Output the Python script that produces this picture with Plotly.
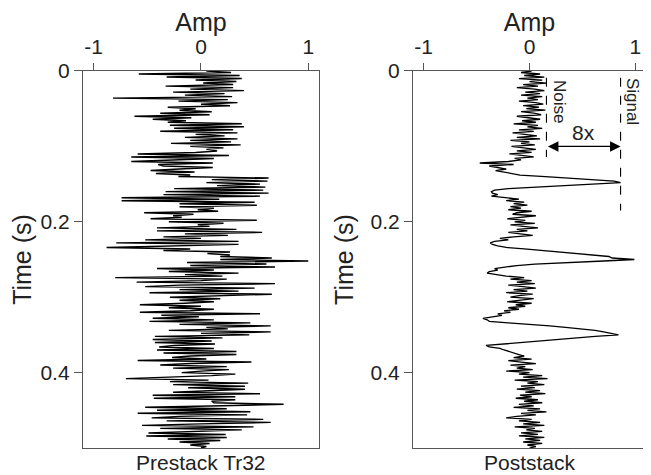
import plotly.graph_objects as go

# sample interval (s)
dt = 0.002

# prestack trace Tr32, amplitude per 2 ms sample
prestack = [
    0.05, 0.28, -0.58, 0.36, -0.32, 0.38, -0.05, 0.33, 0.02, 0.30,
    -0.33, 0.30, -0.10, 0.40, -0.26, 0.22, -0.15, 0.29, -0.82, 0.25,
    -0.21, 0.34, 0.00, 0.27, -0.31, -0.05, -0.20, 0.10, -0.38, 0.08,
    -0.62, -0.09, -0.45, -0.14, -0.31, 0.38, -0.29, 0.40, -0.25, 0.30,
    -0.38, 0.34, -0.05, 0.22, -0.15, 0.34, -0.10, 0.28, -0.28, 0.37,
    -0.10, 0.21, 0.05, 0.15, -0.05, -0.59, 0.26, -0.65, 0.12, -0.30,
    -0.65, 0.11, -0.40, -0.35, 0.11, -0.20, -0.47, -0.06, -0.42, -0.10,
    -0.21, 0.63, 0.10, 0.62, 0.05, 0.55, 0.15, 0.60, -0.25, 0.58,
    -0.33, 0.63, -0.35, 0.55, -0.74, 0.17, -0.74, 0.50, -0.20, 0.52,
    -0.20, 0.12, -0.03, 0.16, -0.53, -0.07, -0.26, -0.18, -0.47, 0.52,
    -0.30, 0.21, -0.03, 0.08, -0.41, 0.33, -0.41, 0.57, -0.15, 0.25,
    -0.35, 0.00, -0.52, 0.35, -0.79, 0.35, -0.40, -0.88, -0.10, -0.35,
    0.27, 0.06, 0.27, 0.18, 0.66, 0.18, 1.00, -0.13, 0.61, -0.10,
    0.69, -0.41, 0.12, -0.30, 0.35, -0.15, 0.20, -0.80, 0.24, 0.00,
    -0.60, 0.69, -0.20, -0.52, 0.50, -0.20, 0.35, -0.48, 0.66, 0.10,
    -0.29, 0.18, -0.20, 0.12, -0.15, -0.57, 0.00, -0.30, 0.12, -0.10,
    -0.57, 0.55, -0.37, -0.02, -0.45, 0.12, -0.48, 0.46, -0.20, 0.65,
    0.05, 0.25, -0.30, 0.65, 0.00, 0.45, -0.43, 0.20, -0.45, 0.10,
    -0.43, 0.13, -0.25, -0.39, 0.12, -0.41, 0.33, -0.35, 0.33, -0.10,
    -0.27, 0.05, -0.59, 0.47, -0.10, -0.38, 0.24, -0.26, 0.26, 0.00,
    -0.18, 0.32, 0.10, -0.30, -0.70, 0.07, -0.29, 0.44, -0.26, 0.41,
    -0.12, 0.41, 0.00, -0.26, 0.55, -0.45, 0.32, -0.44, 0.32, 0.10,
    0.12, 0.77, 0.20, -0.52, 0.24, -0.41, 0.46, -0.59, 0.43, -0.20,
    -0.46, 0.58, -0.32, 0.65, 0.00, -0.55, 0.49, -0.38, 0.38, -0.10,
    -0.49, 0.23, -0.51, 0.24, -0.31, 0.18, -0.20, 0.08, -0.10, 0.05,
    0.00,
]

# poststack trace
poststack = [
    0.02, -0.08, 0.10, -0.05, 0.14, -0.10, 0.12, 0.00, 0.16, -0.06,
    0.08, -0.12, 0.05, 0.14, -0.04, 0.10, -0.08, 0.12, -0.02, 0.08,
    -0.10, 0.06, 0.13, -0.06, 0.09, -0.03, 0.15, -0.08, 0.04, 0.11,
    -0.12, 0.02, 0.10, -0.07, 0.06, -0.15, 0.08, -0.02, 0.12, -0.10,
    0.04, -0.16, -0.02, 0.07, -0.12, 0.10, -0.18, 0.00, -0.08, 0.05,
    -0.17, -0.05, 0.06, -0.12, 0.02, -0.19, -0.06, 0.04, -0.14, -0.08,
    -0.20, -0.47, -0.15, -0.38, -0.30, -0.22, -0.32, -0.25, -0.18, -0.09,
    0.15, 0.40, 0.65, 0.80, 0.86, 0.60, 0.30, 0.00, -0.20, -0.33,
    -0.36, -0.35, -0.30, -0.36, -0.20, -0.10, -0.22, -0.05, -0.15, -0.02,
    -0.18, -0.08, -0.20, 0.02, -0.12, -0.16, 0.06, -0.10, -0.21, -0.04,
    -0.14, 0.05, -0.18, -0.06, 0.08, -0.12, -0.02, -0.20, -0.08, 0.03,
    -0.15, -0.28, -0.20, -0.33, -0.37, -0.35, -0.30, -0.22, -0.05, 0.12,
    0.28, 0.45, 0.62, 0.75, 0.78, 0.99, 0.70, 0.29, 0.05, -0.12,
    -0.25, -0.33, -0.30, -0.38, -0.40, -0.32, -0.22, -0.05, -0.18, 0.02,
    -0.12, 0.05, -0.20, -0.06, 0.06, -0.15, -0.02, -0.22, 0.03, -0.10,
    -0.18, 0.04, -0.08, -0.21, 0.02, -0.13, -0.04, -0.20, -0.10, -0.24,
    -0.18, -0.30, -0.26, -0.35, -0.44, -0.40, -0.38, -0.20, 0.05, 0.19,
    0.34, 0.52, 0.62, 0.70, 0.76, 0.84, 0.62, 0.44, 0.22, 0.05,
    -0.09, -0.25, -0.41, -0.38, -0.28, -0.24, -0.20, -0.14, -0.10, -0.05,
    -0.15, 0.02, -0.20, -0.08, 0.06, -0.18, -0.04, -0.12, 0.03, -0.22,
    0.00, -0.10, 0.12, -0.06, 0.17, -0.14, 0.08, -0.02, 0.14, -0.08,
    0.05, -0.12, 0.10, -0.04, 0.15, -0.09, 0.02, -0.13, 0.08, -0.05,
    0.12, -0.10, 0.04, -0.15, 0.10, -0.02, 0.16, -0.08, 0.06, -0.12,
    -0.22, 0.02, -0.10, 0.10, -0.06, 0.14, -0.14, 0.05, -0.03, 0.12,
    -0.08, 0.08, -0.10, 0.14, -0.04, 0.10, -0.06, 0.12, -0.02, 0.06,
    0.00,
]

# noise / signal levels marked on the poststack panel
noise_amp = 0.16
signal_amp = 0.86
ratio_label = "8x"

panel_titles = ["Prestack Tr32", "Poststack"]
amp_ticks = [-1, 0, 1]
amp_labels = ["-1", "0", "1"]
time_ticks = [0, 0.2, 0.4]
time_labels = ["0", "0.2", "0.4"]

FONT = "Liberation Sans, Arial, sans-serif"
INK = "#222222"
FRAME = "#555555"

fig = go.Figure()
fig.add_trace(go.Scatter(x=prestack, y0=0, dy=dt, mode="lines",
                         line=dict(color="black", width=1.4),
                         xaxis="x", yaxis="y", showlegend=False))
fig.add_trace(go.Scatter(x=poststack, y0=0, dy=dt, mode="lines",
                         line=dict(color="black", width=1.3),
                         xaxis="x2", yaxis="y2", showlegend=False))

# page body adds an 8px offset, so the figure is 643x467
xdoms = [[0.1166, 0.4837], [0.6299, 0.9922]]
ydom = [0.0578, 0.8651]


def xax(dom, anchor):
    return dict(domain=dom, anchor=anchor, range=[-1.1, 1.1], side="top",
                tickvals=amp_ticks, ticktext=amp_labels, ticks="outside",
                ticklen=7, tickwidth=1.2, tickcolor=FRAME, showline=True,
                mirror=True, linecolor=FRAME, linewidth=1.3, showgrid=False,
                zeroline=False, title=dict(text="Amp", standoff=2),
                automargin=False)


def yax(anchor):
    return dict(domain=ydom, anchor=anchor, range=[0.5, 0],
                tickvals=time_ticks, ticktext=time_labels, ticks="outside",
                ticklen=8, tickwidth=1.2, tickcolor=FRAME, showline=True,
                mirror=True, linecolor=FRAME, linewidth=1.3, showgrid=False,
                zeroline=False, title=dict(text="Time (s)", standoff=9),
                automargin=False)


fig.update_layout(
    width=643, height=467,
    margin=dict(l=0, r=0, t=0, b=0),
    paper_bgcolor="white", plot_bgcolor="white",
    font=dict(family=FONT, size=21, color=INK),
    xaxis=xax(xdoms[0], "y"), yaxis=yax("x"),
    xaxis2=xax(xdoms[1], "y2"), yaxis2=yax("x2"),
)

# panel captions under each box
for dom, txt in zip(xdoms, panel_titles):
    fig.add_annotation(x=(dom[0] + dom[1]) / 2, y=0.027, xref="paper", yref="paper",
                       text=txt, showarrow=False, xanchor="center", yanchor="middle",
                       font=dict(size=21, color=INK))

# noise and signal levels
fig.add_shape(type="line", xref="x2", yref="y2", x0=noise_amp, x1=noise_amp,
              y0=0.009, y1=0.114, line=dict(color="black", width=1.1, dash="dash"))
fig.add_shape(type="line", xref="x2", yref="y2", x0=signal_amp, x1=signal_amp,
              y0=0.009, y1=0.185, line=dict(color="black", width=1.1, dash="dash"))
fig.add_annotation(x=noise_amp + 0.13, y=0.04, xref="x2", yref="y2", text="Noise",
                   textangle=90, showarrow=False, font=dict(size=17, color=INK))
fig.add_annotation(x=signal_amp + 0.12, y=0.04, xref="x2", yref="y2", text="Signal",
                   textangle=90, showarrow=False, font=dict(size=17, color=INK))
fig.add_annotation(x=signal_amp, y=0.10, ax=noise_amp, ay=0.10, xref="x2", yref="y2",
                   axref="x2", ayref="y2", text="", showarrow=True,
                   arrowhead=2, startarrowhead=2, arrowside="end+start",
                   arrowsize=1.5, arrowwidth=1.4, arrowcolor="black",
                   standoff=0, startstandoff=0)
fig.add_annotation(x=(noise_amp + signal_amp) / 2, y=0.082, xref="x2", yref="y2",
                   text=ratio_label, showarrow=False, font=dict(size=21, color=INK))

fig.write_html("out.html")
